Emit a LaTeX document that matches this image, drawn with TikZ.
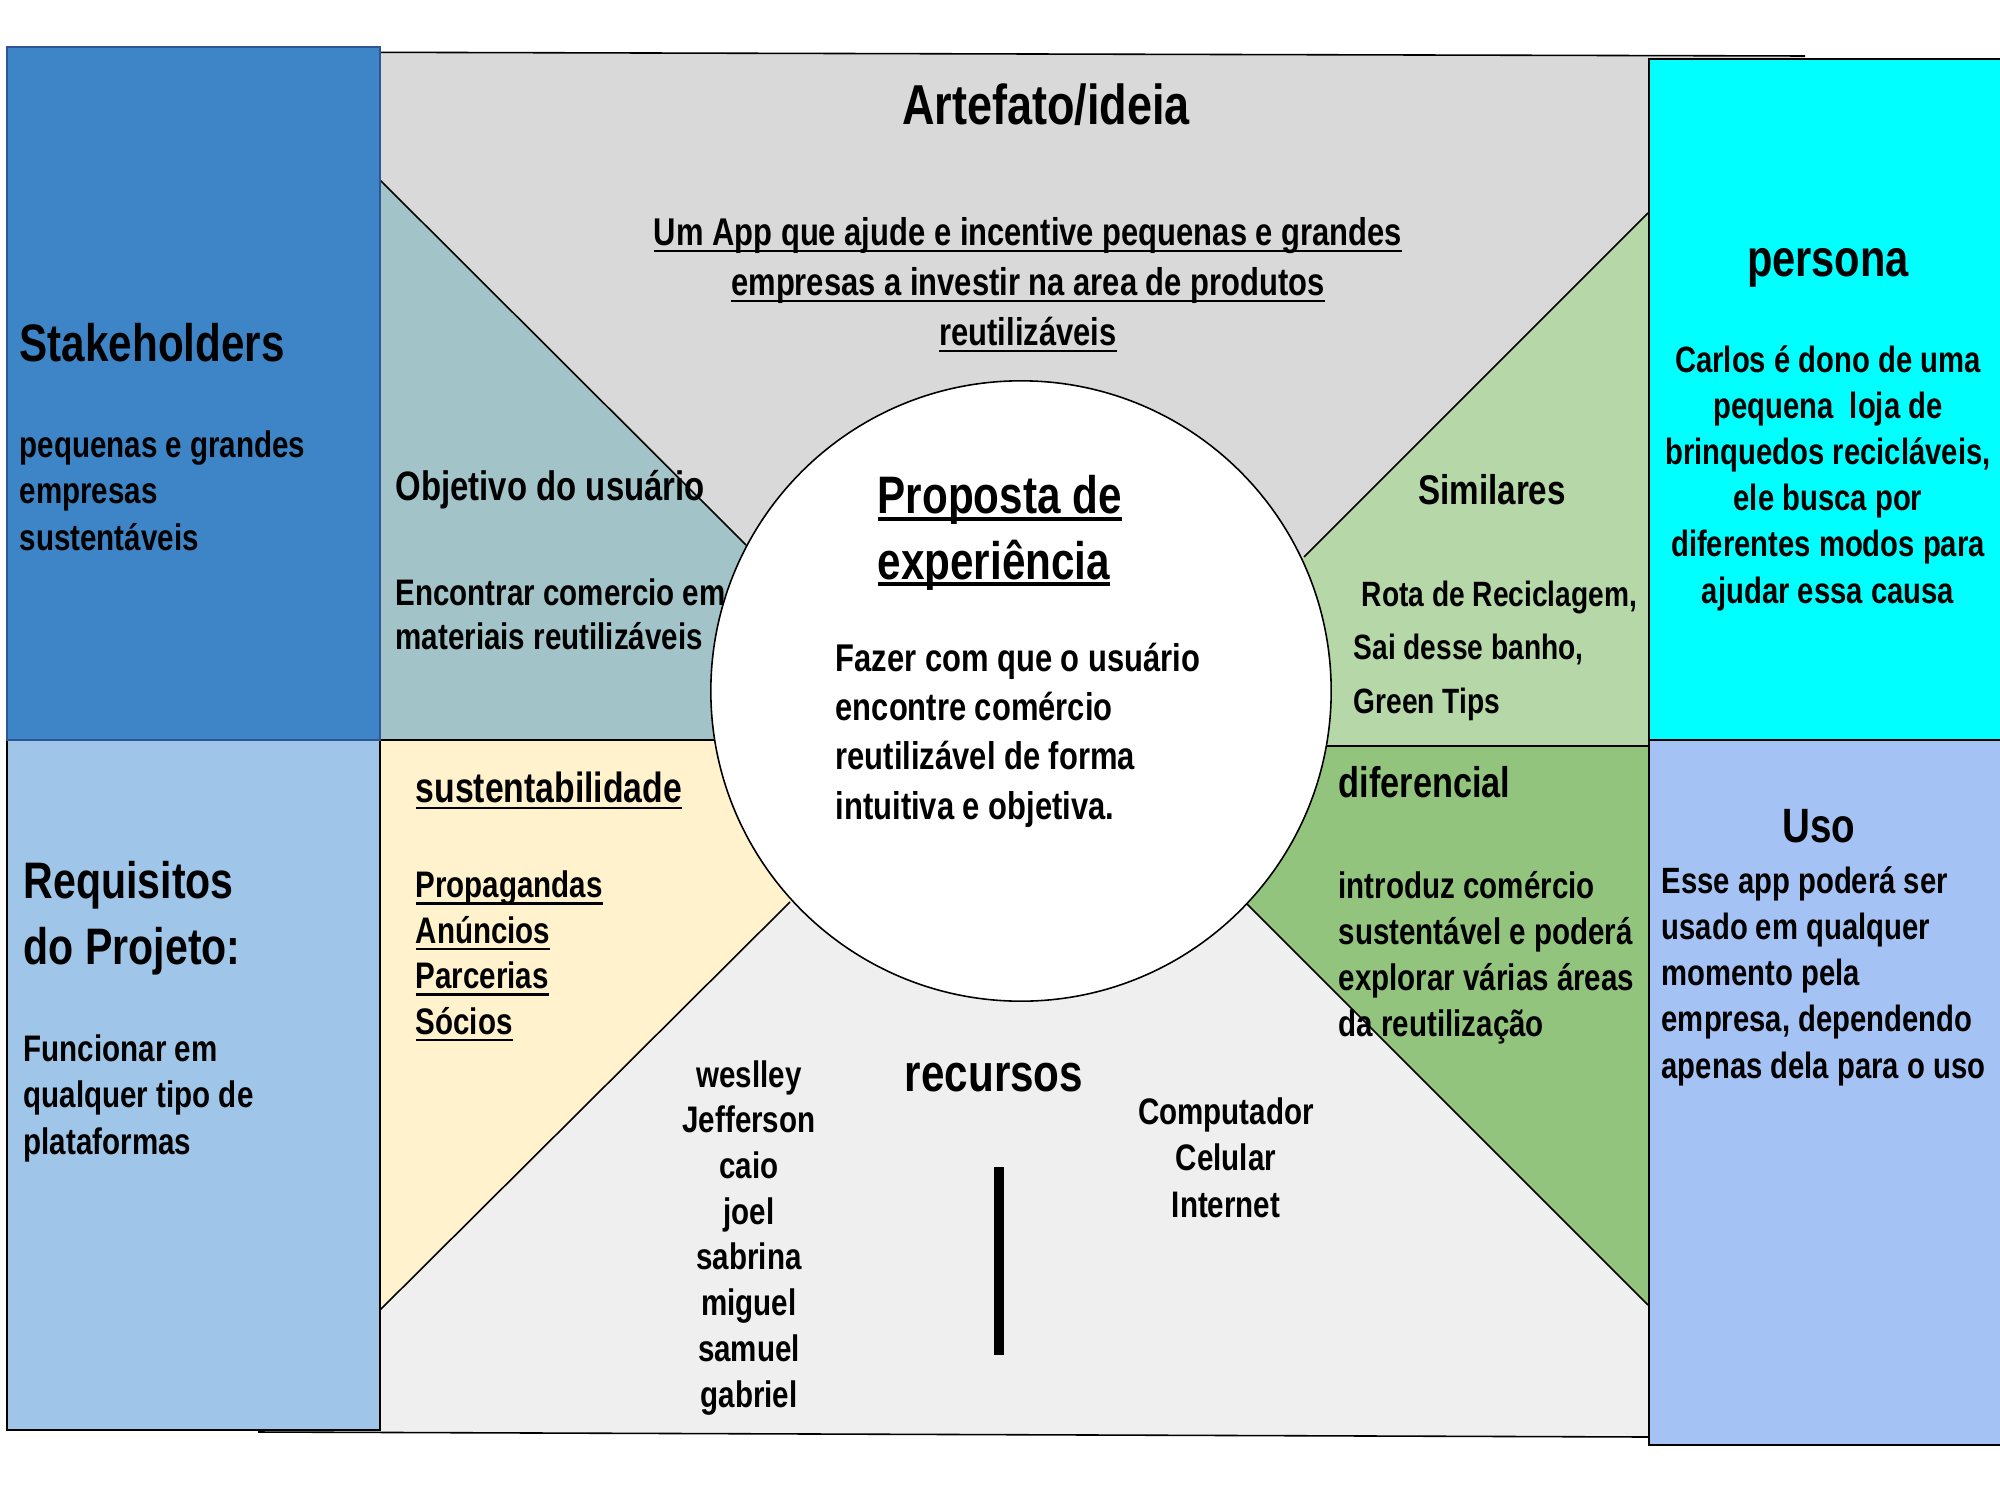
\documentclass[tikz,border=0pt]{standalone}
\usepackage{fontspec}
\setmainfont{Liberation Sans}[FakeStretch=0.8]
\usepackage{tikz}

\definecolor{stakeblue}{HTML}{3D85C6}
\definecolor{stakeedge}{HTML}{2F5597}
\definecolor{reqblue}{HTML}{9FC5E8}
\definecolor{usoblue}{HTML}{A4C2F4}
\definecolor{goalteal}{HTML}{A2C4C9}
\definecolor{sustyellow}{HTML}{FFF2CC}
\definecolor{simgreen}{HTML}{B6D7A8}
\definecolor{difgreen}{HTML}{93C47D}
\definecolor{ideagrey}{HTML}{D9D9D9}
\definecolor{resgrey}{HTML}{EFEFEF}
\definecolor{personacyan}{HTML}{00FFFF}

\newcommand{\fs}[2]{\fontsize{#1}{#2}\selectfont\bfseries}
\newcommand{\undl}[2][0.7pt]{\setbox0\hbox{#2}\rlap{\rule[-2pt]{\wd0}{#1}}\box0}

\begin{document}
\begin{tikzpicture}[x=0.01cm, y=-0.01cm,
  edge/.style={line width=0.45pt},
  boxedge/.style={line width=0.7pt},
  txt/.style={inner sep=0pt, align=left, anchor=base west},
  ctxt/.style={inner sep=0pt, align=center, anchor=base}]

  \useasboundingbox (0,0) rectangle (2000,1500);

  % backdrop
  \fill[resgrey] (258,52) -- (1805,56) -- (1805,1437) -- (258,1432) -- cycle;

  % wedges
  \fill[ideagrey] (258,52) -- (1805,56) -- (1805,213) -- (1648,213) -- (1304,557)
    -- (1021,691) -- (746,545) -- (380,180) -- (258,180) -- cycle;
  \fill[goalteal] (380,180) -- (746,545) -- (1021,691) -- (1021,740) -- (380,740) -- cycle;
  \fill[sustyellow] (380,740) -- (1021,740) -- (1021,691) -- (790,902) -- (380,1310) -- cycle;
  \fill[simgreen] (1648,213) -- (1304,557) -- (1021,691) -- (1021,746) -- (1648,746) -- cycle;
  \fill[difgreen] (1648,746) -- (1021,746) -- (1021,691) -- (1247,904) -- (1648,1305) -- cycle;

  % trace
  \draw[edge] (258,52) -- (1805,56);
  \draw[edge] (258,1432) -- (1648,1437);
  \foreach \xa/\ya/\xb/\yb in {380/180/746/545, 1648/213/1304/557, 790/902/380/1310,
      1247/904/1648/1305, 380/740/715/740, 1326/746/1648/746} {
    \draw[edge] (\xa,\ya) -- (\xb,\yb);
  }

  % centre
  \node[circle, draw, edge, fill=white, minimum size=6.2cm, inner sep=0pt] (expcircle) at (1021,691) {};

  % side boxes
  \draw[boxedge, fill=reqblue] (7,740) rectangle (380,1430);
  \draw[boxedge, stakeedge, fill=stakeblue] (7,47) rectangle (380,740);
  \draw[boxedge, fill=personacyan] (1649,59) rectangle (2010,740);
  \draw[boxedge, fill=usoblue] (1649,740) rectangle (2010,1445);

  % bar
  \draw[line width=2.6pt] (999,1167) -- (999,1355);

  % texts (multi-line nodes sit on the baseline of their last line)
  \node[ctxt, font=\fs{16}{19}] (idea) at (1046,125) {Artefato/ideia};
  \node[ctxt, font=\fs{11}{14.2}] (ideabody) at (1028,345)
    {\undl{Um App que ajude e incentive pequenas e grandes}\\\undl{empresas a investir na area de produtos}\\\undl{reutilizáveis}};

  \node[txt, font=\fs{15}{18}] (stake) at (19,361) {Stakeholders};
  \node[txt, font=\fs{10.5}{13.1}] (stakebody) at (19,550) {pequenas e grandes\\empresas\\sustentáveis};

  \node[txt, font=\fs{11.7}{14}] (goal) at (395,500) {Objetivo do usuário};
  \node[txt, font=\fs{10.5}{12.5}] (goalbody) at (395,649) {Encontrar comercio em\\materiais reutilizáveis};

  \node[txt, font=\fs{15}{18.5}] (prop) at (877,579) {\undl[1.1pt]{Proposta de}\\\undl[1.1pt]{experiência}};
  \node[txt, font=\fs{11}{14}] (propbody) at (835,819)
    {Fazer com que o usuário\\encontre comércio\\reutilizável de forma\\intuitiva e objetiva.};

  \node[ctxt, font=\fs{11.8}{14}] (sim) at (1492,504) {Similares};
  \node[txt, font=\fs{10}{15.2}] (simbody) at (1353,713) {\hspace*{2.3pt}Rota de Reciclagem,\\Sai desse banho,\\Green Tips};

  \node[ctxt, font=\fs{14.8}{17}] (persona) at (1828,276) {persona};
  \node[ctxt, font=\fs{10.4}{13.1}] (personabody) at (1828,603)
    {Carlos é dono de uma\\pequena\ \ loja de\\brinquedos recicláveis,\\ele busca por\\diferentes modos para\\ajudar essa causa};

  \node[txt, font=\fs{14.6}{18.7}] (req) at (23,964) {Requisitos\\do Projeto:};
  \node[txt, font=\fs{10.5}{13.1}] (reqbody) at (23,1154) {Funcionar em\\qualquer tipo de\\plataformas};

  \node[txt, font=\fs{12}{14}] (sust) at (415,802) {\undl{sustentabilidade}};
  \node[txt, font=\fs{10.5}{12.9}] (sustbody) at (415,1034) {\undl{Propagandas}\\\undl{Anúncios}\\\undl{Parcerias}\\\undl{Sócios}};

  \node[txt, font=\fs{12.2}{14}] (dif) at (1338,797) {diferencial};
  \node[txt, font=\fs{10.5}{13}] (difbody) at (1338,1036)
    {introduz comércio\\sustentável e poderá\\explorar várias áreas\\da reutilização};

  \node[ctxt, font=\fs{13.7}{16}] (uso) at (1819,842) {Uso};
  \node[txt, font=\fs{10.4}{13.1}] (usobody) at (1661,1078)
    {Esse app poderá ser\\usado em qualquer\\momento pela\\empresa, dependendo\\apenas dela para o uso};

  \node[ctxt, font=\fs{15}{17}] (res) at (994,1091) {recursos};
  \node[ctxt, font=\fs{10.5}{13}] (team) at (749,1407)
    {weslley\\Jefferson\\caio\\joel\\sabrina\\miguel\\samuel\\gabriel};
  \node[ctxt, font=\fs{10.5}{13.1}] (tools) at (1226,1217) {Computador\\Celular\\Internet};
\end{tikzpicture}
\end{document}
